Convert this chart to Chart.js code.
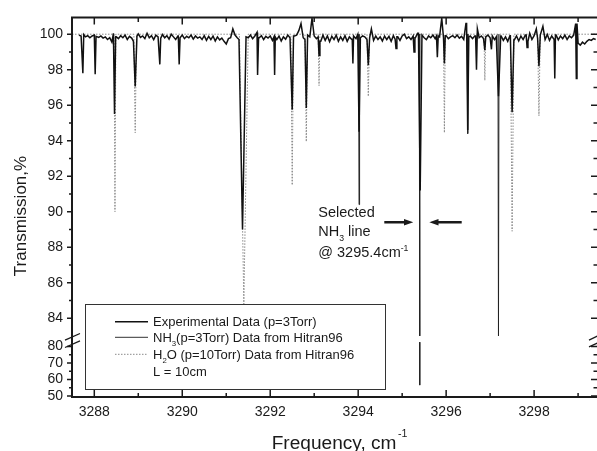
<!DOCTYPE html>
<html>
<head>
<meta charset="utf-8">
<script src="https://cdn.jsdelivr.net/npm/chart.js@4.4.1/dist/chart.umd.min.js"></script>
<style>
  html, body { margin: 0; padding: 0; background: #fff; }
</style>
</head>
<body>
<canvas id="spectrum" width="597" height="451"></canvas>
<script>
// Experimental trace: baseline samples every 0.05 cm-1, plus the absorption dips
const BASE_START = 3287.65;
const BASE_STEP = 0.05;
const expBaseline = [
    99.95, 99.90, 99.98, 99.85, 99.92, 99.80, 99.90, 99.95, 99.88, 99.82,
    99.90, 99.78, 99.85, 99.70, 99.80, 99.55, 100.05, 99.85, 99.75, 99.92,
    99.80, 99.95, 99.70, 99.88, 99.78, 99.60, 99.90, 100.02, 99.82, 99.90,
    99.75, 100.05, 99.80, 99.92, 99.70, 99.95, 99.85, 99.78, 99.98, 99.80,
    99.92, 99.72, 100.00, 99.85, 99.70, 99.90, 99.80, 99.95, 99.75, 99.88,
    99.80, 99.95, 99.72, 99.90, 99.78, 99.85, 99.70, 99.92, 99.65, 99.88,
    99.70, 99.90, 99.62, 99.85, 99.68, 99.78, 99.60, 99.45, 99.75, 99.80,
    100.30, 99.95, 99.80, 99.70, 99.60, 99.65, 99.85, 99.80, 99.95, 99.75,
    99.90, 100.10, 99.80, 99.92, 99.70, 99.88, 99.78, 99.90, 99.65, 99.85,
    99.70, 99.90, 99.62, 99.85, 99.72, 99.95, 99.80, 99.75, 99.90, 99.95,
    100.20, 100.60, 99.80, 99.70, 99.95, 99.85, 100.90, 99.90, 99.75, 99.85,
    99.60, 99.95, 99.65, 99.90, 99.58, 99.88, 99.70, 99.95, 99.60, 99.85,
    99.65, 99.92, 99.60, 99.85, 99.72, 99.90, 99.75, 99.98, 99.80, 99.90,
    99.85, 99.70, 99.80, 100.30, 99.65, 99.90, 99.70, 99.85, 99.62, 99.90,
    99.70, 99.88, 99.60, 99.92, 99.72, 99.85, 99.65, 99.90, 100.00, 99.75,
    99.85, 99.70, 99.90, 99.80, 100.05, 99.85, 99.95, 99.80, 99.70, 99.90,
    99.80, 99.95, 99.75, 99.90, 99.85, 100.90, 99.80, 99.92, 99.75, 99.85,
    99.92, 99.80, 99.95, 99.78, 99.88, 99.70, 100.60, 99.85, 99.90, 99.75,
    99.90, 100.30, 99.80, 99.90, 99.75, 99.85, 99.95, 99.80, 99.90, 99.70,
    99.85, 99.72, 99.90, 99.65, 99.85, 99.60, 99.92, 99.75, 99.68, 99.90,
    99.62, 99.90, 99.70, 99.95, 99.60, 100.05, 99.70, 99.92, 100.30, 99.75,
    99.95, 100.45, 99.70, 99.98, 99.65, 99.90, 99.72, 99.95, 99.68, 99.90,
    99.75, 99.95, 99.70, 99.90, 99.80, 99.95, 100.60, 99.50, 99.38, 99.55,
    99.45, 99.60, 99.70, 99.65, 99.75, 99.70
];
const expDipFreq = [3287.74, 3288.02, 3288.46, 3288.93, 3289.49, 3289.93, 3291.37, 3291.72, 3292.10,
    3292.50, 3292.82, 3293.11, 3293.88, 3294.02, 3294.23, 3294.86, 3295.27, 3295.41, 3295.80,
    3295.96, 3296.49, 3296.69, 3296.88, 3297.03, 3297.19, 3297.50, 3297.84, 3298.11, 3298.47, 3298.96];
const expDipMin = [97.8, 97.75, 95.5, 97.05, 98.3, 98.3, 89.0, 97.7, 97.7,
    95.75, 95.85, 98.8, 98.35, 94.5, 98.25, 99.2, 99.0, 91.2, 98.7,
    98.35, 94.6, 98.0, 99.1, 99.15, 96.5, 95.6, 99.25, 98.2, 97.5, 97.5];
const expDipHalfWidth = [0.02, 0.02, 0.025, 0.04, 0.02, 0.02, 0.08, 0.015, 0.015,
    0.03, 0.03, 0.02, 0.015, 0.03, 0.03, 0.02, 0.02, 0.04, 0.02,
    0.02, 0.025, 0.02, 0.02, 0.02, 0.05, 0.04, 0.02, 0.03, 0.015, 0.015];

// HITRAN96 simulations
const nh3LineFreq = [3294.02, 3295.40, 3296.49, 3297.19];
const nh3LineMin = [90.4, 56.6, 94.4, 83.0];
const nh3LineHalfWidth = [0.012, 0.012, 0.012, 0.012];

const h2oLineFreq = [3288.47, 3288.93, 3291.40, 3292.50, 3292.82, 3293.11, 3294.23, 3295.96, 3296.88, 3297.50, 3298.11];
const h2oLineMin = [90.0, 94.45, 84.8, 91.5, 93.95, 97.1, 96.5, 94.45, 97.4, 88.9, 95.4];
const h2oLineHalfWidth = [0.02, 0.03, 0.1, 0.03, 0.03, 0.02, 0.03, 0.02, 0.02, 0.04, 0.03];

// axes
const X_MIN = 3287.493;
const X_MAX = 3299.43;
const xTickValues = [3288, 3290, 3292, 3294, 3296, 3298];
const xTickLabels = ['3288', '3290', '3292', '3294', '3296', '3298'];
const xMinorTicks = [3289, 3291, 3293, 3295, 3297, 3299];
const yTickValues = [50, 60, 70, 80, 84, 86, 88, 90, 92, 94, 96, 98, 100];
const yTickLabels = ['50', '60', '70', '80', '84', '86', '88', '90', '92', '94', '96', '98', '100'];
const yMinorTicks = [55, 65, 75, 85, 87, 89, 91, 93, 95, 97, 99];

// broken y axis: values below 83 are squeezed into the lower strip
const BREAK = 83;
const LOW_BASE = 79.617;
const LOW_SCALE = 0.0928;
function toAxis(v) {
    if (v === null) return null;
    return v >= BREAK ? v : LOW_BASE + (v - 50) * LOW_SCALE;
}

const FONT = "'Liberation Sans', Arial, sans-serif";
const INK = '#1a1a1a';

function buildExperimental() {
    const pts = [];
    expBaseline.forEach((v, i) => {
        const x = BASE_START + i * BASE_STEP;
        const inDip = expDipFreq.some((c, k) => Math.abs(x - c) <= expDipHalfWidth[k]);
        if (!inDip) pts.push({x: x, y: v});
    });
    const baseAt = x => expBaseline[Math.max(0, Math.min(expBaseline.length - 1, Math.round((x - BASE_START) / BASE_STEP)))];
    expDipFreq.forEach((c, k) => {
        const w = expDipHalfWidth[k];
        pts.push({x: c - w, y: baseAt(c - w)});
        pts.push({x: c, y: expDipMin[k]});
        pts.push({x: c + w, y: baseAt(c + w)});
    });
    pts.sort((a, b) => a.x - b.x);
    return pts.map(p => ({x: p.x, y: toAxis(p.y)}));
}

function buildNh3() {
    const pts = [];
    nh3LineFreq.forEach((c, k) => {
        const w = nh3LineHalfWidth[k];
        const m = nh3LineMin[k];
        if (m < BREAK) {
            // line runs through the axis break: leave the gap empty
            pts.push({x: c - w, y: 100}, {x: c, y: BREAK}, {x: c, y: null},
                {x: c, y: BREAK - 0.3}, {x: c, y: m}, {x: c + 0.0001, y: null});
        } else {
            pts.push({x: c - w, y: 100}, {x: c, y: m}, {x: c + w, y: 100}, {x: c + w + 0.0001, y: null});
        }
    });
    return pts.map(p => ({x: p.x, y: toAxis(p.y)}));
}

function buildH2o() {
    const pts = [{x: X_MIN, y: 100}];
    h2oLineFreq.forEach((c, k) => {
        const w = h2oLineHalfWidth[k];
        pts.push({x: c - w, y: 100}, {x: c, y: h2oLineMin[k]}, {x: c + w, y: 100});
    });
    pts.push({x: X_MAX, y: 100});
    return pts.map(p => ({x: p.x, y: toAxis(p.y)}));
}

// draws text pieces with sub/superscripts, returns end x
function drawParts(ctx, x, y, parts, size) {
    parts.forEach(p => {
        const s = p.sub || p.sup ? size * 0.6 : size;
        ctx.font = s + 'px ' + FONT;
        const dy = p.sub ? size * 0.3 : (p.sup ? -size * 0.42 : 0);
        ctx.fillText(p.t, x, y + dy);
        x += ctx.measureText(p.t).width;
    });
    return x;
}

const frameAndNotes = {
    id: 'frameAndNotes',
    afterDraw(chart) {
        const ctx = chart.ctx;
        const {left, right, top, bottom} = chart.chartArea;
        const xs = chart.scales.x;
        const ys = chart.scales.y;
        const px = v => xs.getPixelForValue(v);
        const py = v => ys.getPixelForValue(toAxis(v));
        ctx.save();

        // frame
        ctx.strokeStyle = INK;
        ctx.lineWidth = 2;
        ctx.beginPath();
        ctx.moveTo(right + 1, top);
        ctx.lineTo(left, top);
        ctx.lineTo(left, bottom);
        ctx.lineTo(right + 1, bottom);
        ctx.stroke();

        // tick marks
        ctx.lineWidth = 1.5;
        ctx.beginPath();
        xTickValues.forEach(v => {
            const x = px(v);
            ctx.moveTo(x, top); ctx.lineTo(x, top + 7);
            ctx.moveTo(x, bottom); ctx.lineTo(x, bottom - 7);
        });
        xMinorTicks.forEach(v => {
            const x = px(v);
            ctx.moveTo(x, top); ctx.lineTo(x, top + 4.5);
            ctx.moveTo(x, bottom); ctx.lineTo(x, bottom - 4);
        });
        yTickValues.forEach(v => {
            const y = py(v);
            ctx.moveTo(left - 5, y); ctx.lineTo(left, y);
            ctx.moveTo(right, y); ctx.lineTo(right - 6, y);
        });
        yMinorTicks.forEach(v => {
            const y = py(v);
            ctx.moveTo(left - 3, y); ctx.lineTo(left, y);
            ctx.moveTo(right, y); ctx.lineTo(right - 3.5, y);
        });
        ctx.stroke();

        // axis break marks
        const yb = (ys.getPixelForValue(BREAK) + ys.getPixelForValue(toAxis(BREAK - 0.01))) / 2;
        ctx.lineWidth = 1.3;
        ctx.beginPath();
        ctx.moveTo(left - 7, yb + 1.3); ctx.lineTo(left + 8, yb - 5.3);
        ctx.moveTo(left - 7, yb + 8.7); ctx.lineTo(left + 8, yb + 2);
        ctx.moveTo(right - 8, yb + 1.3); ctx.lineTo(right + 2, yb - 3.5);
        ctx.moveTo(right - 8, yb + 8); ctx.lineTo(right + 2, yb + 3.5);
        ctx.stroke();

        // legend box
        ctx.fillStyle = '#fff';
        ctx.fillRect(86, 305, 300, 84);
        ctx.strokeStyle = '#333';
        ctx.lineWidth = 1;
        ctx.strokeRect(85.5, 304.5, 300, 85);

        ctx.lineWidth = 1.4;
        ctx.strokeStyle = '#111';
        ctx.beginPath(); ctx.moveTo(115, 321.7); ctx.lineTo(148, 321.7); ctx.stroke();
        ctx.lineWidth = 1;
        ctx.strokeStyle = '#333';
        ctx.beginPath(); ctx.moveTo(115, 337.3); ctx.lineTo(148, 337.3); ctx.stroke();
        ctx.strokeStyle = '#8a8a8a';
        ctx.setLineDash([1.5, 1.5]);
        ctx.beginPath(); ctx.moveTo(115, 354.3); ctx.lineTo(148, 354.3); ctx.stroke();
        ctx.setLineDash([]);

        ctx.fillStyle = INK;
        ctx.textAlign = 'left';
        ctx.textBaseline = 'alphabetic';
        drawParts(ctx, 153, 326.3, [{t: 'Experimental Data (p=3Torr)'}], 13);
        drawParts(ctx, 153, 341.9, [{t: 'NH'}, {t: '3', sub: true}, {t: '(p=3Torr) Data from Hitran96'}], 13);
        drawParts(ctx, 153, 358.9, [{t: 'H'}, {t: '2', sub: true}, {t: 'O (p=10Torr) Data from Hitran96'}], 13);
        drawParts(ctx, 153, 376.3, [{t: 'L = 10cm'}], 13);

        // annotation for the selected line
        drawParts(ctx, 318.3, 216.9, [{t: 'Selected'}], 14.5);
        drawParts(ctx, 318.3, 236.2, [{t: 'NH'}, {t: '3', sub: true}, {t: ' line'}], 14.5);
        drawParts(ctx, 318.3, 257.0, [{t: '@ 3295.4cm'}, {t: '-1', sup: true}], 14.5);

        ctx.strokeStyle = INK;
        ctx.lineWidth = 2.5;
        ctx.beginPath();
        ctx.moveTo(384.3, 222.3); ctx.lineTo(406, 222.3);
        ctx.moveTo(461.7, 222.3); ctx.lineTo(437, 222.3);
        ctx.stroke();
        ctx.beginPath();
        ctx.moveTo(413.3, 222.3); ctx.lineTo(404, 219); ctx.lineTo(404, 225.6); ctx.closePath();
        ctx.moveTo(429.3, 222.3); ctx.lineTo(438.5, 219); ctx.lineTo(438.5, 225.6); ctx.closePath();
        ctx.fill();

        // axis titles
        ctx.save();
        ctx.translate(25.5, 216);
        ctx.rotate(-Math.PI / 2);
        ctx.textAlign = 'center';
        ctx.font = '17px ' + FONT;
        ctx.fillText('Transmission,%', 0, 0);
        ctx.restore();

        ctx.save();
        ctx.translate(271.7, 449.3);
        ctx.scale(1.06, 1);
        ctx.font = '18px ' + FONT;
        ctx.fillText('Frequency, cm', 0, 0);
        const w = ctx.measureText('Frequency, cm').width;
        ctx.font = '10px ' + FONT;
        ctx.fillText('-1', w + 1.5, -12.5);
        ctx.restore();

        ctx.restore();
    }
};

new Chart(document.getElementById('spectrum'), {
    type: 'line',
    data: {
        datasets: [{
            label: 'Experimental Data (p=3Torr)',
            data: buildExperimental(),
            borderColor: '#111',
            borderWidth: 1.5,
            order: 0
        }, {
            label: 'NH3(p=3Torr) Data from Hitran96',
            data: buildNh3(),
            borderColor: '#222',
            borderWidth: 1,
            spanGaps: false,
            order: 1
        }, {
            label: 'H2O (p=10Torr) Data from Hitran96',
            data: buildH2o(),
            borderColor: '#8a8a8a',
            borderWidth: 1,
            borderDash: [1.5, 1.5],
            order: 2
        }]
    },
    options: {
        responsive: false,
        animation: false,
        elements: {
            point: { radius: 0 },
            line: { tension: 0 }
        },
        layout: { padding: { top: 13, right: 0, left: 0, bottom: 0 } },
        plugins: {
            legend: { display: false },
            tooltip: { enabled: false }
        },
        scales: {
            x: {
                type: 'linear',
                min: X_MIN,
                max: X_MAX,
                grid: { display: false, drawTicks: false },
                border: { display: false },
                ticks: {
                    font: { family: FONT, size: 14 },
                    color: INK,
                    padding: 7,
                    maxRotation: 0,
                    callback: (value, index) => xTickLabels[index]
                },
                afterBuildTicks: scale => {
                    scale.ticks = xTickValues.map(v => ({value: v}));
                },
                afterFit: scale => { scale.height = 54; }
            },
            y: {
                type: 'linear',
                min: 79.56,
                max: 100.947,
                grid: { display: false, drawTicks: false },
                border: { display: false },
                ticks: {
                    font: { family: FONT, size: 14 },
                    color: INK,
                    padding: 9,
                    callback: (value, index) => yTickLabels[index]
                },
                afterBuildTicks: scale => {
                    scale.ticks = yTickValues.map(v => ({value: toAxis(v)}));
                },
                afterFit: scale => { scale.width = 72; }
            }
        }
    },
    plugins: [frameAndNotes]
});
</script>
</body>
</html>
